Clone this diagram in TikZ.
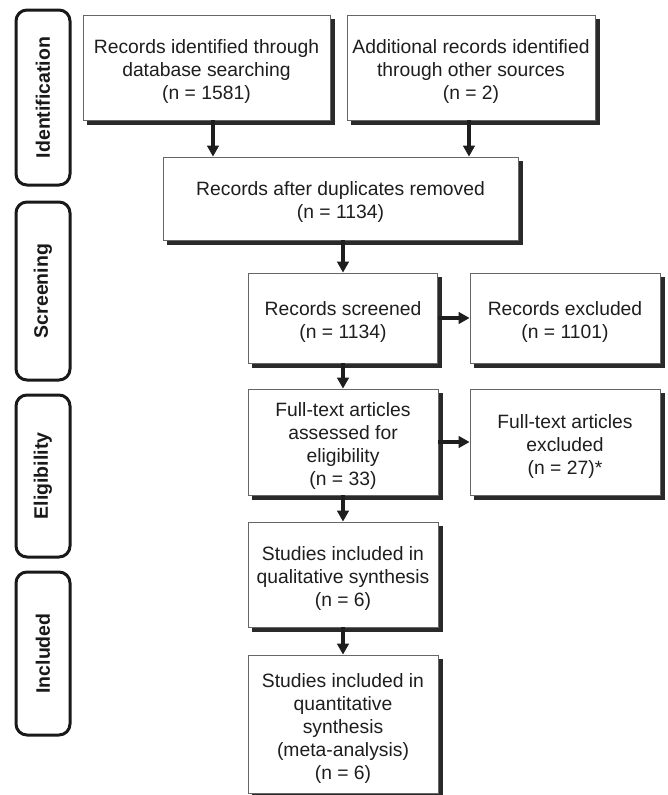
\documentclass[tikz,border=0pt]{standalone}
\usepackage{fontspec}
\setmainfont{Liberation Sans}
\usetikzlibrary{arrows.meta}
\definecolor{txt}{HTML}{1E1E1E}
\definecolor{shd}{HTML}{2A2A2A}
\definecolor{brd}{HTML}{666666}
\newcommand\flowbox[5]{%
  \node[shadowbox, minimum width=#3pt, minimum height=#4pt] at ([shift={(4,4)}]#2) {};
  \node[box, minimum width=#3pt, minimum height=#4pt] (#1) at (#2) {};
  \node[boxtext] (#1-t) at ([shift={(0,4)}]#1.center) {#5};}
\begin{document}
\begin{tikzpicture}[x=1pt,y=-1pt,
  box/.style={draw=brd, line width=0.8pt, fill=white, inner sep=0pt},
  boxtext/.style={align=center, inner sep=0pt, text=txt, font=\fontsize{19.3}{23}\selectfont},
  shadowbox/.style={fill=shd, draw=shd, line width=0.8pt, inner sep=0pt},
  phase/.style={draw=black!90, line width=3pt, rounded corners=11pt, rotate=90,
    minimum height=54pt, inner sep=0pt, font=\fontsize{19.5}{22}\selectfont\bfseries, text=black!90},
  arr/.style={draw=txt, line width=3.6pt, -{Triangle[length=11pt,width=11.5pt]}}
]
\fill[white] (0,0) rectangle (668,795);
\useasboundingbox (0,0) rectangle (668,795);

% phase labels
\node[phase, minimum width=175pt] (pid) at (43,97.5) {Identification};
\node[phase, minimum width=178pt] (psc) at (43,291) {Screening};
\node[phase, minimum width=162pt] (pel) at (43,476) {Eligibility};
\node[phase, minimum width=163pt] (pin) at (43,653.5) {Included};

% boxes
\flowbox{db}{206.5,67.5}{247}{105}{Records identified through\\database searching\\(n = 1581)}
\flowbox{add}{471,67.5}{248}{105}{Additional records identified\\through other sources\\(n = 2)}
\flowbox{dup}{340.5,198.5}{355}{83}{Records after duplicates removed\\(n = 1134)}
\flowbox{scr}{343,318}{189}{90}{Records screened\\(n = 1134)}
\flowbox{exc}{565,318}{190}{90}{Records excluded\\(n = 1101)}
\flowbox{ft}{343,442}{190}{106}{Full-text articles\\assessed for\\eligibility\\(n = 33)}
\flowbox{ftx}{565,442}{190}{106}{Full-text articles\\excluded\\(n = 27)*}
\flowbox{qual}{343,574.5}{190}{105}{Studies included in\\qualitative synthesis\\(n = 6)}
\flowbox{quant}{343,724}{190}{138}{Studies included in\\quantitative\\synthesis\\(meta-analysis)\\(n = 6)}

% connectors
\coordinate (c1) at (213,0);
\coordinate (c2) at (469,0);
\draw[arr] (db.south -| c1) -- (dup.north -| c1);
\draw[arr] (add.south -| c2) -- (dup.north -| c2);
\draw[arr] (dup.south -| scr.north) -- (scr.north);
\draw[arr] (scr.east) -- (exc.west);
\draw[arr] (scr.south) -- (ft.north);
\draw[arr] (ft.east) -- (ftx.west);
\draw[arr] (ft.south) -- (qual.north);
\draw[arr] (qual.south) -- (quant.north);
\end{tikzpicture}
\end{document}
